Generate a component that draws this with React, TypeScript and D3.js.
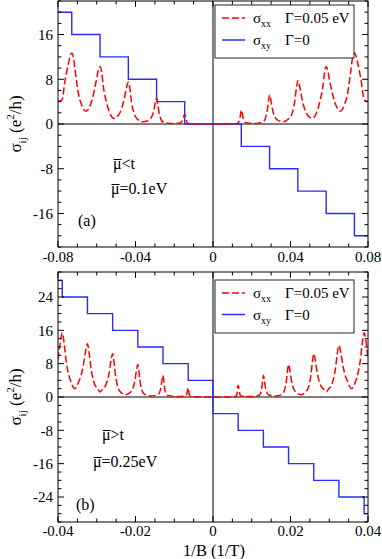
import React, { useEffect, useRef } from "react";
import * as d3 from "d3";

const WIDTH = 382;
const HEIGHT = 559;
const FONT = "'Liberation Serif', 'Times New Roman', serif";
const PLOT_LEFT = 58;
const PLOT_RIGHT = 368;

// ---- panel (a): mu < t ----
const aXxX = [
  -0.08, -0.078, -0.0763, -0.0746, -0.0737, -0.0729, -0.0721, -0.0712, -0.0695, -0.0678,
  -0.0656, -0.0639, -0.0622, -0.0605, -0.0592, -0.0583, -0.0575, -0.0566, -0.0549, -0.0528,
  -0.051, -0.0488, -0.0471, -0.0454, -0.0445, -0.0437, -0.0429, -0.0421, -0.0406, -0.0391,
  -0.0364, -0.0333, -0.0319, -0.0305, -0.0298, -0.0291, -0.02855, -0.028, -0.0269, -0.0258,
  -0.0218, -0.017, -0.0162, -0.0154, -0.015, -0.0146, -0.0143, -0.014, -0.0134, -0.0128, -0.011,
  0,
  0.011, 0.0128, 0.0134, 0.014, 0.0143, 0.0146, 0.015, 0.0154, 0.0162, 0.017,
  0.0219, 0.0259, 0.027, 0.0281, 0.02865, 0.0292, 0.0299, 0.0306, 0.032, 0.0334,
  0.0365, 0.039, 0.0406, 0.0422, 0.043, 0.0438, 0.0449, 0.046, 0.0471, 0.0482, 0.0493,
  0.0511, 0.0529, 0.055, 0.0567, 0.0575, 0.0584, 0.0592, 0.0601, 0.0618, 0.0635,
  0.0657, 0.0678, 0.0695, 0.0712, 0.0721, 0.073, 0.0738, 0.0747, 0.0764, 0.0781, 0.08,
];
const aXxY = [
  4.0, 4.3, 7.9, 10.9, 12.2, 12.7, 12.0, 9.7, 5.5, 3.4,
  2.3, 2.9, 4.6, 7.3, 9.6, 10.3, 9.4, 6.7, 3.8, 1.6,
  1.0, 1.6, 2.8, 5.2, 6.7, 7.5, 6.4, 4.0, 1.8, 0.9,
  0.4, 0.65, 1.1, 2.5, 3.8, 4.6, 3.7, 2.35, 0.87, 0.37,
  0.1, 0.2, 0.39, 0.95, 1.46, 1.8, 1.44, 0.9, 0.31, 0.11, 0.02,
  0,
  0.02, 0.15, 0.43, 1.25, 2.0, 2.5, 2.02, 1.3, 0.51, 0.24,
  0.1, 0.41, 0.97, 2.65, 4.2, 5.2, 4.2, 2.8, 1.2, 0.7,
  0.4, 0.92, 1.66, 4.1, 6.3, 7.8, 6.4, 4.4, 2.9, 2.0, 1.4,
  1.0, 1.6, 3.8, 6.7, 9.0, 10.3, 9.6, 7.9, 5.2, 3.3,
  2.3, 3.4, 5.5, 9.7, 12.0, 12.7, 12.2, 10.9, 7.9, 4.3, 4.0,
];
const aXyX = [-0.08, -0.0729, -0.0583, -0.0437, -0.0291, -0.0146, 0.0146, 0.0292, 0.0438, 0.0584, 0.073, 0.08];
const aXyY = [20, 16, 12, 8, 4, 0, -4, -8, -12, -16, -20, -20];
const aXTicks = [-0.08, -0.04, 0, 0.04, 0.08];
const aXTickLabels = ["-0.08", "-0.04", "0", "0.04", "0.08"];
const aYTicks = [16, 8, 0, -8, -16];

// ---- panel (b): mu > t ----
const bXxX = [
  -0.04, -0.03945, -0.0389, -0.0384, -0.0379, -0.0374, -0.0369, -0.0361,
  -0.03565, -0.0346, -0.03405, -0.0335, -0.03295, -0.0324, -0.03195, -0.0315, -0.03105, -0.0306, -0.0297,
  -0.02915, -0.0286, -0.0277, -0.02725, -0.0268, -0.02635, -0.0259, -0.02555, -0.0252, -0.02485, -0.0245, -0.0238,
  -0.02265, -0.0215, -0.0208, -0.02045, -0.0201, -0.01975, -0.0194, -0.01913, -0.01885, -0.01858, -0.0183, -0.01775,
  -0.01615, -0.01425, -0.0138, -0.01358, -0.01335, -0.01313, -0.0129, -0.01273, -0.01255, -0.01238, -0.0122, -0.01185,
  -0.00965, -0.00715, -0.0069, -0.00678, -0.00665, -0.00653, -0.0064, -0.0063, -0.0062, -0.0061, -0.006, -0.0058, -0.0045,
  0,
  0.0045, 0.0059, 0.0061, 0.0062, 0.0063, 0.0064, 0.0065, 0.00663, 0.00675, 0.00688, 0.007, 0.0072,
  0.00975, 0.01195, 0.0123, 0.01248, 0.01265, 0.01283, 0.013, 0.01323, 0.01345, 0.01368, 0.0139, 0.01435,
  0.01625, 0.01785, 0.0184, 0.01868, 0.01895, 0.01923, 0.0195, 0.01985, 0.0202, 0.02055, 0.0209, 0.0216,
  0.02275, 0.0239, 0.0246, 0.02495, 0.0253, 0.02565, 0.026, 0.02645, 0.0269, 0.02735, 0.0278, 0.0287,
  0.02925, 0.0298, 0.0307, 0.03115, 0.0316, 0.03205, 0.0325, 0.03305, 0.0336, 0.03415, 0.0347,
  0.03575, 0.0362, 0.037, 0.0375, 0.038, 0.0385, 0.039, 0.03955, 0.04,
];
const bXxY = [
  9.0, 12.9, 15.4, 12.7, 8.7, 6.0, 4.3, 2.4,
  2.0, 3.8, 5.2, 7.4, 10.6, 12.8, 10.5, 7.0, 4.7, 3.2, 1.9,
  1.2, 1.75, 2.8, 4.0, 5.8, 8.6, 10.4, 8.4, 5.5, 3.5, 2.2, 1.15,
  0.56, 1.0, 1.8, 2.7, 4.2, 6.4, 7.8, 6.3, 4.0, 2.5, 1.5, 0.7,
  0.24, 0.54, 1.08, 1.7, 2.7, 4.2, 5.2, 4.2, 2.65, 1.63, 0.97, 0.4,
  0.1, 0.23, 0.46, 0.73, 1.15, 1.78, 2.2, 1.76, 1.1, 0.66, 0.37, 0.13, 0.02,
  0,
  0.02, 0.17, 0.48, 0.84, 1.4, 2.24, 2.8, 2.26, 1.45, 0.91, 0.56, 0.26,
  0.1, 0.4, 0.97, 1.63, 2.65, 4.2, 5.2, 4.2, 2.7, 1.7, 1.08, 0.54,
  0.24, 0.7, 1.5, 2.5, 4.0, 6.3, 7.8, 6.4, 4.2, 2.7, 1.8, 1.0,
  0.56, 1.15, 2.2, 3.5, 5.5, 8.4, 10.4, 8.6, 5.8, 4.0, 2.8, 1.75,
  1.2, 1.9, 3.1, 4.6, 6.8, 10.2, 12.4, 10.3, 7.2, 5.1, 3.8,
  2.0, 2.4, 4.3, 6.0, 8.7, 12.7, 15.4, 12.9, 9.0,
];
const bXyX = [-0.04, -0.0389, -0.0324, -0.0259, -0.0194, -0.0129, -0.0064, 0, 0.0065, 0.013, 0.0195, 0.026, 0.0325, 0.039, 0.04];
const bXyY = [28, 24, 20, 16, 12, 8, 4, -4, -8, -12, -16, -20, -24, -28, -28];
const bXTicks = [-0.04, -0.02, 0, 0.02, 0.04];
const bXTickLabels = ["-0.04", "-0.02", "0", "0.02", "0.04"];
const bYTicks = [24, 16, 8, 0, -8, -16, -24];

const LEGEND_LABELS = [
  { sub: "xx", rest: "Γ=0.05 eV" },
  { sub: "xy", rest: "Γ=0" },
];

const PANELS = [
  {
    id: "a", top: 1, bottom: 247, xDomain: [-0.08, 0.08], yDomain: [-22, 22],
    xx: [aXxX, aXxY], xy: [aXyX, aXyY],
    xTicks: aXTicks, xTickLabels: aXTickLabels, yTicks: aYTicks,
    legendTop: 5, rowGap: 22, tickLabelGap: 15,
    notes: [
      { x: 113, y: 169, text: "μ<t", bar: true },
      { x: 111, y: 194, text: "μ=0.1eV", bar: true },
      { x: 78, y: 226, text: "(a)", bar: false },
    ],
  },
  {
    id: "b", top: 272, bottom: 522, xDomain: [-0.04, 0.04], yDomain: [-30, 30],
    xx: [bXxX, bXxY], xy: [bXyX, bXyY],
    xTicks: bXTicks, xTickLabels: bXTickLabels, yTicks: bYTicks,
    legendTop: 280, rowGap: 21.5, tickLabelGap: 14,
    notes: [
      { x: 102, y: 440, text: "μ>t", bar: true },
      { x: 93, y: 467, text: "μ=0.25eV", bar: true },
      { x: 76, y: 510, text: "(b)", bar: false },
    ],
  },
];

export default function App() {
  const svgRef = useRef<SVGSVGElement>(null);

  useEffect(() => {
    const svg = d3.select(svgRef.current);
    svg.selectAll("*").remove();

    svg.append("rect").attr("width", WIDTH).attr("height", HEIGHT).attr("fill", "white");

    PANELS.forEach((p) => {
      const x = d3.scaleLinear().domain(p.xDomain).range([PLOT_LEFT, PLOT_RIGHT]);
      const y = d3.scaleLinear().domain(p.yDomain).range([p.bottom, p.top]);
      const g = svg.append("g");

      const clipId = `clip-${p.id}`;
      svg.append("defs").append("clipPath").attr("id", clipId)
        .append("rect")
        .attr("x", PLOT_LEFT).attr("y", p.top)
        .attr("width", PLOT_RIGHT - PLOT_LEFT).attr("height", p.bottom - p.top);

      // zero lines
      g.append("line").attr("x1", PLOT_LEFT).attr("x2", PLOT_RIGHT)
        .attr("y1", y(0)).attr("y2", y(0)).attr("stroke", "black").attr("stroke-width", 1);
      g.append("line").attr("x1", x(0)).attr("x2", x(0))
        .attr("y1", p.top).attr("y2", p.bottom).attr("stroke", "black").attr("stroke-width", 1);

      const plot = g.append("g").attr("clip-path", `url(#${clipId})`);

      // sigma_xy (steps)
      const [xyX, xyY] = p.xy;
      const stepLine = d3.line<number>()
        .x((_, i) => x(xyX[i]))
        .y((d) => y(d))
        .curve(d3.curveStepAfter);
      plot.append("path").datum(xyY)
        .attr("fill", "none").attr("stroke", "#2b2bff").attr("stroke-width", 1.4)
        .attr("d", stepLine);

      // sigma_xx (dashed)
      const [xxX, xxY] = p.xx;
      const xxLine = d3.line<number>()
        .x((_, i) => x(xxX[i]))
        .y((d) => y(d))
        .curve(d3.curveMonotoneX);
      plot.append("path").datum(xxY)
        .attr("fill", "none").attr("stroke", "#ff0000").attr("stroke-width", 1.5)
        .attr("stroke-dasharray", "7,3")
        .attr("d", xxLine);

      // frame
      g.append("rect").attr("x", PLOT_LEFT).attr("y", p.top)
        .attr("width", PLOT_RIGHT - PLOT_LEFT).attr("height", p.bottom - p.top)
        .attr("fill", "none").attr("stroke", "black").attr("stroke-width", 1);

      // x ticks (inward, bottom and top): 3 minor between majors
      const xStep = (p.xTicks[1] - p.xTicks[0]) / 4;
      const xMinor = d3.range(p.xDomain[0], p.xDomain[1] + xStep / 2, xStep);
      xMinor.forEach((v) => {
        const major = p.xTicks.some((t) => Math.abs(t - v) < 1e-9);
        const len = major ? 6 : 3.5;
        g.append("line").attr("x1", x(v)).attr("x2", x(v))
          .attr("y1", p.bottom).attr("y2", p.bottom - len).attr("stroke", "black");
        g.append("line").attr("x1", x(v)).attr("x2", x(v))
          .attr("y1", p.top).attr("y2", p.top + len).attr("stroke", "black");
      });
      p.xTicks.forEach((v, i) => {
        g.append("text").attr("x", x(v)).attr("y", p.bottom + p.tickLabelGap)
          .attr("text-anchor", "middle").attr("font-family", FONT).attr("font-size", 15)
          .text(p.xTickLabels[i]);
      });

      // y ticks (inward, left and right): minor every 2
      const yMinor = d3.range(Math.ceil(p.yDomain[0] / 2) * 2, p.yDomain[1] + 0.1, 2);
      yMinor.forEach((v) => {
        const major = p.yTicks.includes(v);
        const len = major ? 6 : 3.5;
        g.append("line").attr("x1", PLOT_LEFT).attr("x2", PLOT_LEFT + len)
          .attr("y1", y(v)).attr("y2", y(v)).attr("stroke", "black");
        g.append("line").attr("x1", PLOT_RIGHT).attr("x2", PLOT_RIGHT - len)
          .attr("y1", y(v)).attr("y2", y(v)).attr("stroke", "black");
      });
      p.yTicks.forEach((v) => {
        g.append("text").attr("x", 53).attr("y", y(v)).attr("dy", "0.35em")
          .attr("text-anchor", "end").attr("font-family", FONT).attr("font-size", 15)
          .text(String(v));
      });

      // y label
      const cy = (p.top + p.bottom) / 2;
      const yl = g.append("text")
        .attr("transform", `translate(21,${cy}) rotate(-90)`)
        .attr("text-anchor", "middle").attr("font-family", FONT).attr("font-size", 17);
      yl.append("tspan").text("σ");
      yl.append("tspan").attr("dy", 5).attr("font-size", 11).text("ij");
      yl.append("tspan").attr("dy", -5).text(" (e");
      yl.append("tspan").attr("dy", -7).attr("font-size", 11).text("2");
      yl.append("tspan").attr("dy", 7).text("/h)");

      // legend
      const lt = p.legendTop;
      g.append("rect").attr("x", 215).attr("y", lt).attr("width", 139).attr("height", 53)
        .attr("fill", "white").attr("stroke", "#222").attr("stroke-width", 1);
      const rows = [
        { stroke: "#ff0000", dash: "7,3" },
        { stroke: "#2b2bff", dash: null },
      ];
      rows.forEach((r, i) => {
        const ly = lt + 13 + i * p.rowGap;
        g.append("line").attr("x1", 222).attr("x2", 245).attr("y1", ly).attr("y2", ly)
          .attr("stroke", r.stroke).attr("stroke-width", 1.5)
          .attr("stroke-dasharray", r.dash);
        const t = g.append("text").attr("x", 253).attr("y", ly + 5)
          .attr("font-family", FONT).attr("font-size", 15);
        t.append("tspan").text("σ");
        t.append("tspan").attr("dy", 4).attr("font-size", 10).text(LEGEND_LABELS[i].sub);
        t.append("tspan").attr("x", 285).attr("dy", -4).text(LEGEND_LABELS[i].rest);
      });

      // annotations (mu with an overbar)
      p.notes.forEach((n) => {
        g.append("text").attr("x", n.x).attr("y", n.y)
          .attr("font-family", FONT).attr("font-size", 16).text(n.text);
        if (n.bar) {
          g.append("line").attr("x1", n.x + 0.5).attr("x2", n.x + 8.5)
            .attr("y1", n.y - 9.5).attr("y2", n.y - 9.5)
            .attr("stroke", "black").attr("stroke-width", 1);
        }
      });
    });

    // x label
    svg.append("text").attr("x", 214).attr("y", 555.5)
      .attr("text-anchor", "middle").attr("font-family", FONT).attr("font-size", 16.5)
      .text("1/B (1/T)");
  }, []);

  return (
    <svg
      ref={svgRef}
      width={WIDTH}
      height={HEIGHT}
      style={{ position: "absolute", left: 0, top: 0 }}
    />
  );
}
